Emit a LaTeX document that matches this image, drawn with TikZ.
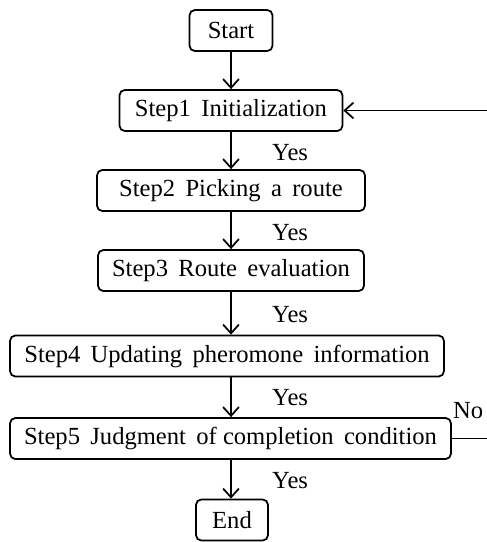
\documentclass[tikz,border=0pt]{standalone}
\usepackage{fontspec}
\setmainfont{Liberation Serif}
\usetikzlibrary{arrows.meta}
\newcommand{\wgap}{\hspace{0.42em}}
\begin{document}
\begin{tikzpicture}[x=0.02cm, y=-0.02cm, >={Straight Barb[length=5pt,width=9pt]},
  stepbox/.style={draw, rounded corners=3pt, line width=1pt, minimum height=0.82cm, inner xsep=5pt, font=\fontsize{14}{16}\selectfont},
  lab/.style={font=\fontsize{14}{16}\selectfont, right}]
 \path[use as bounding box, clip] (0,0) rectangle (487,542);
 \node[stepbox, minimum width=1.66cm] (start) at (231,30.5) {Start};
 \node[stepbox, minimum width=4.46cm] (s1) at (231,110.5) {Step1\wgap Initialization};
 \node[stepbox, minimum width=5.36cm] (s2) at (231,190.5) {Step2\wgap Picking\wgap a\wgap route};
 \node[stepbox, minimum width=5.32cm] (s3) at (231,270.5) {Step3\wgap Route\wgap evaluation};
 \node[stepbox, minimum width=8.68cm] (s4) at (227,356) {Step4\wgap Updating\wgap pheromone\wgap information};
 \node[stepbox, minimum width=8.82cm] (s5) at (230.5,438.5) {Step5\wgap Judgment\wgap of completion\wgap condition};
 \node[stepbox, minimum width=1.44cm] (end) at (232,520) {End};
 \coordinate (r1) at (487,110.5);
 \coordinate (r5) at (487,438.5);
 \draw[->, line width=1pt] (start) -- (s1);
 \draw[->, line width=1pt] (s1) -- (s2);
 \draw[->, line width=1pt] (s2) -- (s3);
 \draw[->, line width=1pt] (s3) -- (s4.north -| s3.south);
 \draw[->, line width=1pt] (s4.south -| s3.south) -- (s5.north -| s3.south);
 \draw[->, line width=1pt] (s5.south -| s3.south) -- (end.north -| s3.south);
 \draw[->, line width=1pt] (r1) -- (s1);
 \draw[line width=1pt] (s5) -- (r5);
 \node[lab] (y1) at (266,153) {Yes};
 \node[lab] (y2) at (266,233) {Yes};
 \node[lab] (y3) at (266,315) {Yes};
 \node[lab] (y4) at (266,398) {Yes};
 \node[lab] (y5) at (266,481) {Yes};
 \node[lab] (no) at (447,411) {No};
\end{tikzpicture}
\end{document}
